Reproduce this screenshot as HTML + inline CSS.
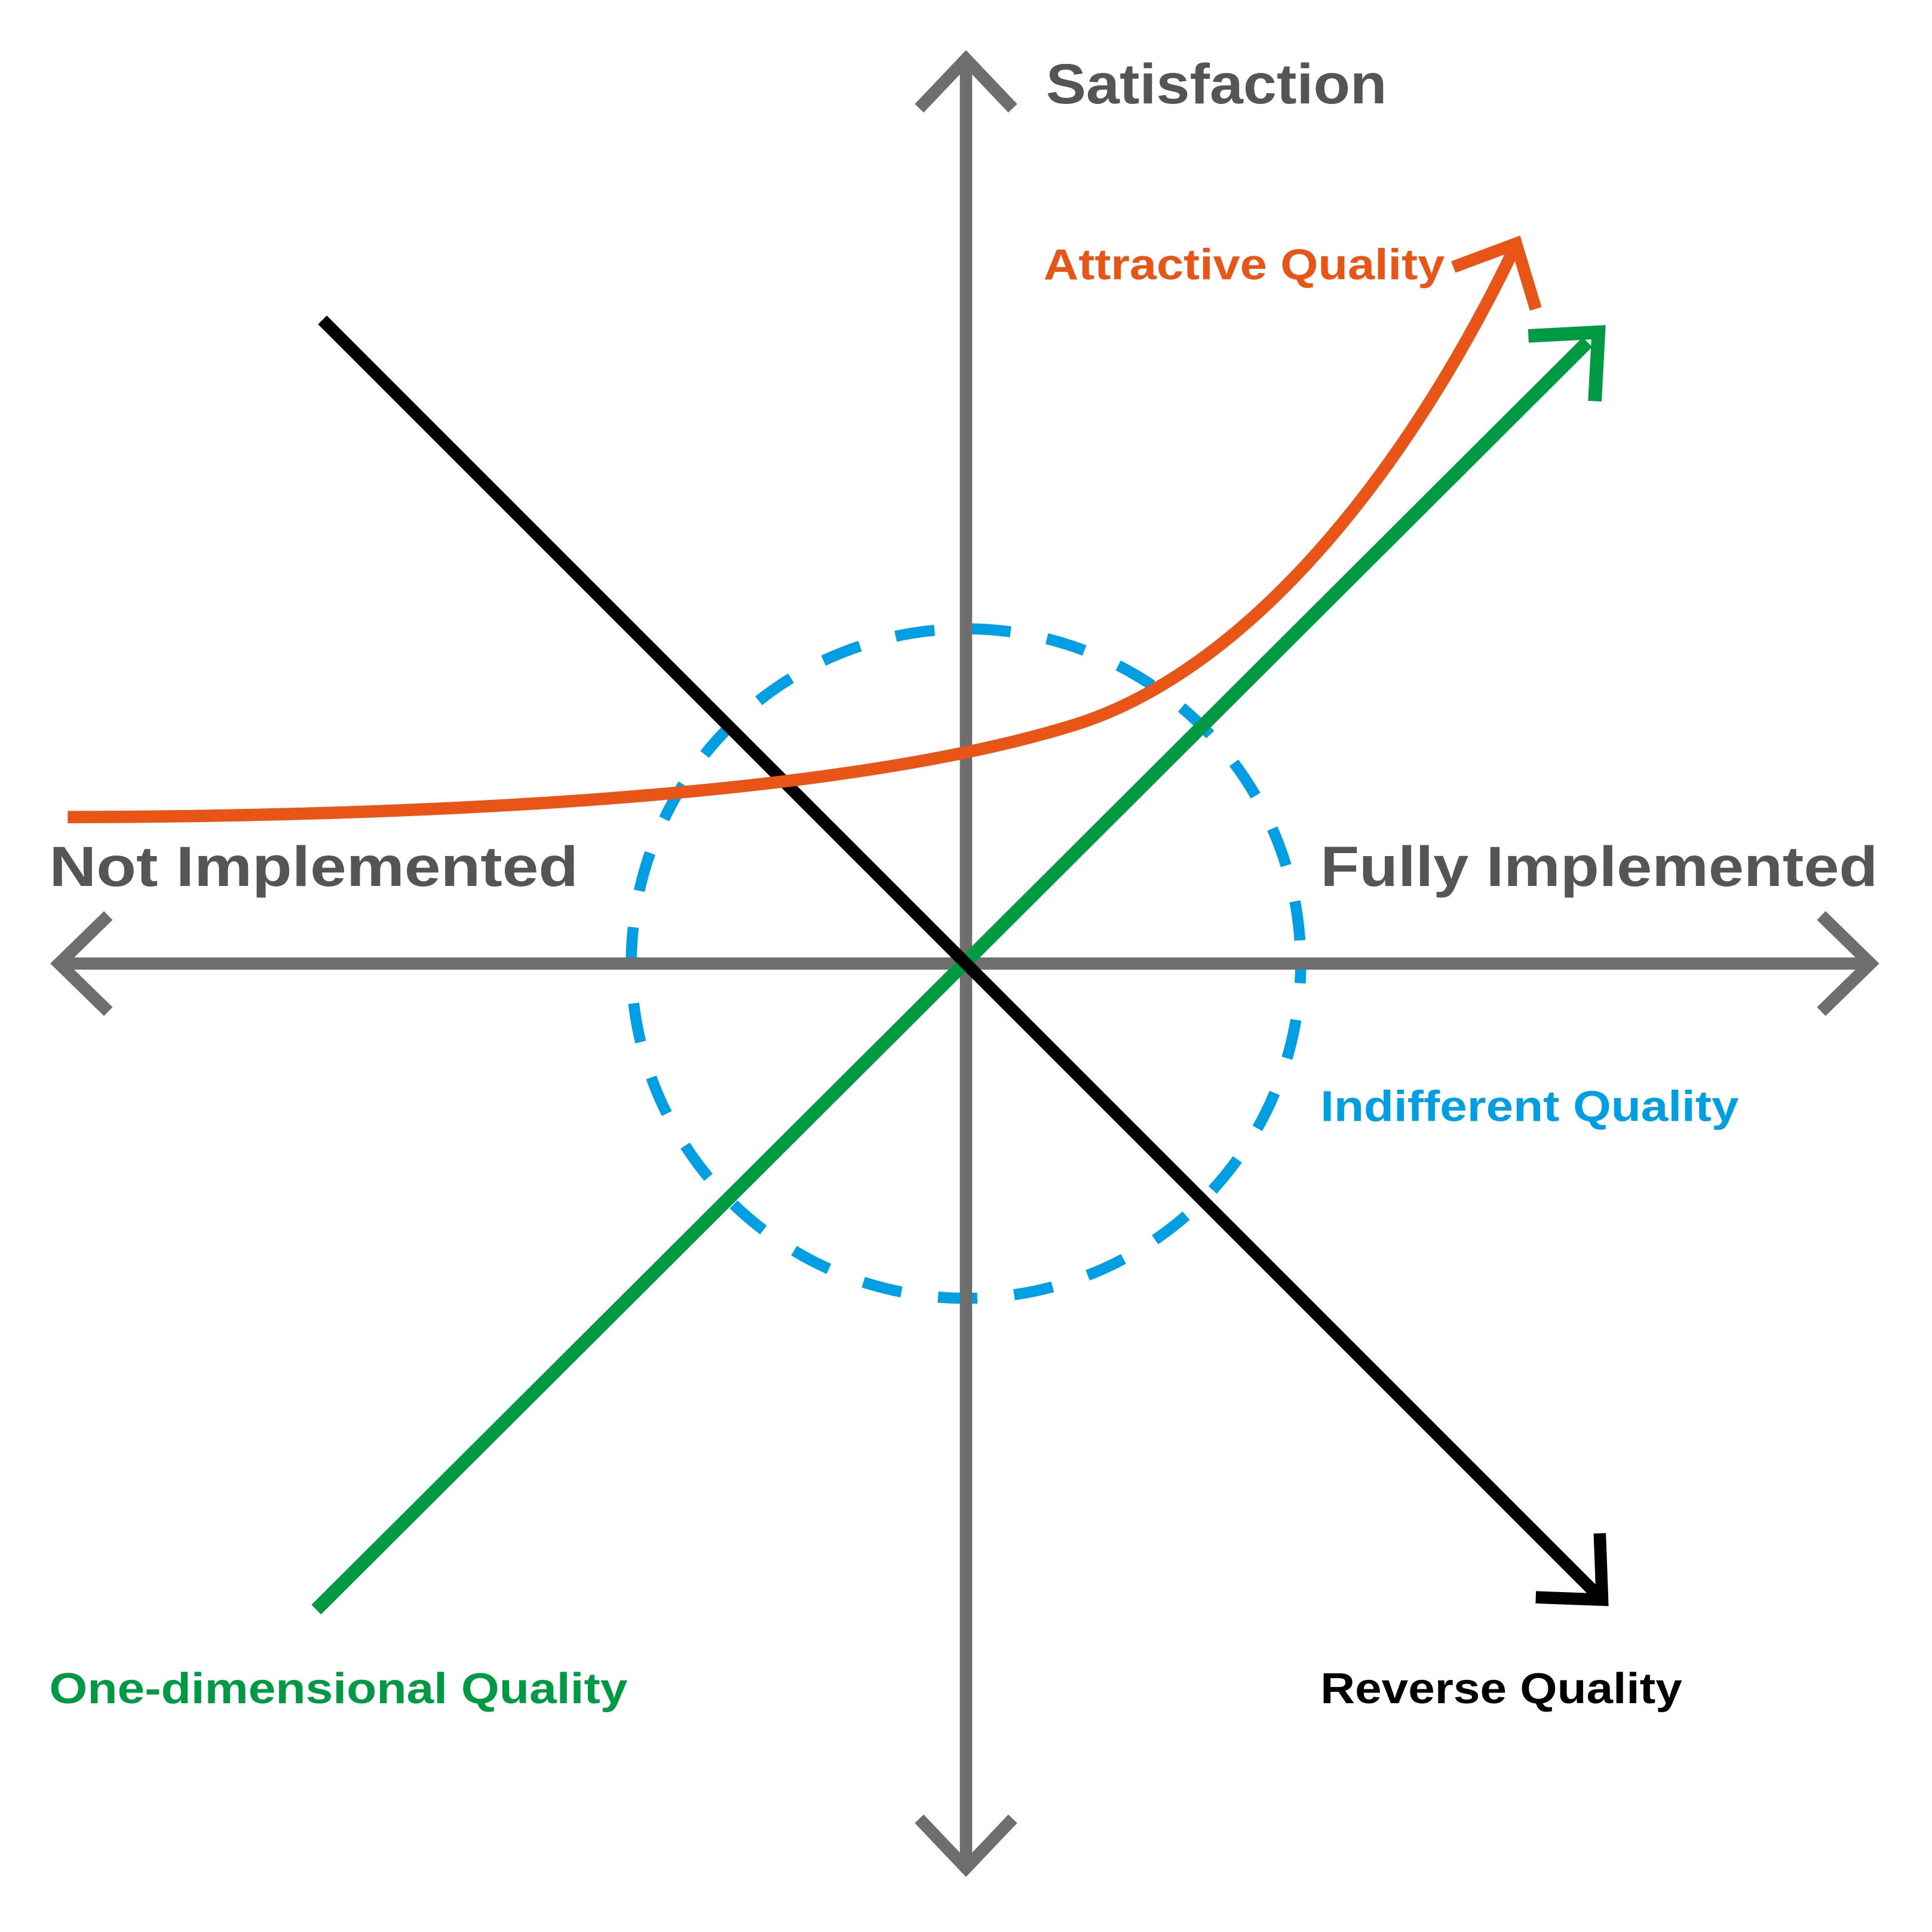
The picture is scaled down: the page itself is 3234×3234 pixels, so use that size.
<!DOCTYPE html>
<html><head><meta charset="utf-8"><style>html,body{margin:0;padding:0;background:#fff}svg{display:block}</style></head>
<body>
<svg width="3234" height="3234" viewBox="0 0 1570 1570" xmlns="http://www.w3.org/2000/svg">
<rect width="1570" height="1570" fill="#fff"/>
<!-- dashed circle -->
<circle cx="785" cy="783" r="272" fill="none" stroke="#009fe3" stroke-width="9" stroke-dasharray="32 30" stroke-dashoffset="16"/>
<!-- axes -->
<g stroke="#6e6e6e" stroke-width="10" fill="none">
<line x1="785" y1="48" x2="785" y2="1516"/>
<line x1="50" y1="783" x2="1518" y2="783"/>
<polyline points="747,88 785,48 823,88"/>
<polyline points="747,1478 785,1518 823,1478"/>
<polyline points="88,744 48,783 88,822"/>
<polyline points="1480,744 1520,783 1480,822"/>
</g>
<!-- green -->
<g stroke="#009a44" stroke-width="11" fill="none">
<line x1="257" y1="1308" x2="1290" y2="278"/>
<polyline points="1242,273 1299,270 1296,326"/>
</g>
<!-- black -->
<g stroke="#000" stroke-width="10" fill="none">
<line x1="262" y1="260" x2="1298" y2="1296"/>
<polyline points="1248,1298 1302,1300 1300,1246"/>
</g>
<!-- orange -->
<g stroke="#e85516" stroke-width="10" fill="none">
<path d="M55,664 C400,663 700,642 870,590 C1010,548 1140,390 1230,203"/>
<polyline points="1181,217 1232,198 1248,251"/>
</g>
<g font-family="Liberation Sans, sans-serif" font-weight="bold">
<text x="850" y="84" font-size="46" fill="#555" textLength="277" lengthAdjust="spacingAndGlyphs">Satisfaction</text>
<text x="40" y="720" font-size="46" fill="#555" textLength="430" lengthAdjust="spacingAndGlyphs">Not Implemented</text>
<text x="1073" y="720" font-size="46" fill="#555" textLength="453" lengthAdjust="spacingAndGlyphs">Fully Implemented</text>
<text x="848" y="227" font-size="35" fill="#e85516" textLength="326" lengthAdjust="spacingAndGlyphs">Attractive Quality</text>
<text x="1073" y="911" font-size="35" fill="#009fe3" textLength="340" lengthAdjust="spacingAndGlyphs">Indifferent Quality</text>
<text x="40" y="1384" font-size="35" fill="#009a44" textLength="470" lengthAdjust="spacingAndGlyphs">One-dimensional Quality</text>
<text x="1073" y="1384" font-size="35" fill="#000" textLength="294" lengthAdjust="spacingAndGlyphs">Reverse Quality</text>
</g>
</svg>
</body></html>
